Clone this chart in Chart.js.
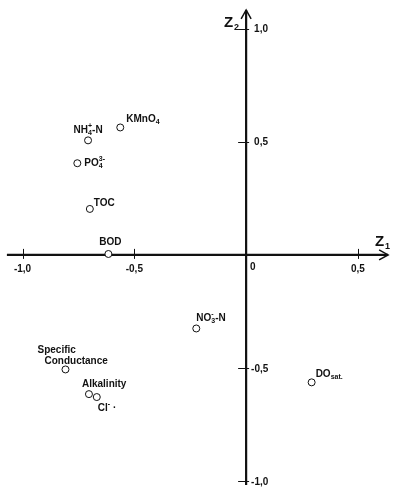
<!DOCTYPE html>
<html>
<head>
<meta charset="utf-8">
<script src="https://cdn.jsdelivr.net/npm/chart.js@4/dist/chart.umd.min.js"></script>
<style>
  html, body { margin: 0; padding: 0; background: #fff; }
  canvas { display: block; }
</style>
</head>
<body>
<canvas id="chart" width="396" height="496"></canvas>
<script>
// Variables and their loadings on the first two components
const names = ['KMnO_{4}', 'NH_{4}^{+}-N', 'PO_{4}^{3-}', 'TOC', 'BOD', 'NO_{3}^{-}-N', 'DO_{sat.}', 'Specific\nConductance', 'Alkalinity', 'Cl^{-} \u00b7'];
const z1 = [-0.563, -0.707, -0.755, -0.699, -0.616, -0.223, 0.293, -0.808, -0.703, -0.668];
const z2 = [0.563, 0.506, 0.405, 0.203, 0.004, -0.325, -0.563, -0.506, -0.615, -0.628];

const xTicks = [-1.0, -0.5, 0, 0.5];
const yTicks = [1.0, 0.5, -0.5, -1.0];

// label offsets from the point: dx, dy (middle of first line), align, indent of next lines
const labelAt = [
    [6, -8, 'left', 0],
    [0, -10, 'center', 0],
    [7, 0, 'left', 0],
    [4, -6, 'left', 0],
    [2, -12, 'center', 0],
    [0, -10, 'left', 0],
    [4, -8, 'left', 0],
    [-28, -19, 'left', 7],
    [-7, -10, 'left', 0],
    [1, 11, 'left', 0]
];

const BIG = 'bold 10px "Liberation Sans", Arial, sans-serif';
const SMALL = 'bold 7px "Liberation Sans", Arial, sans-serif';
const INK = '#111';

function parse(s) {
    const out = [];
    let buf = '', i = 0;
    while (i < s.length) {
        const c = s[i];
        if ((c === '_' || c === '^') && s[i + 1] === '{') {
            if (buf) { out.push({ t: buf, k: 'n' }); buf = ''; }
            const j = s.indexOf('}', i);
            out.push({ t: s.slice(i + 2, j), k: c === '_' ? 'sub' : 'sup' });
            i = j + 1;
        } else {
            buf += c;
            i++;
        }
    }
    if (buf) out.push({ t: buf, k: 'n' });
    return out;
}

function layout(ctx, line) {
    let x = 0, prev = null;
    const items = parse(line).map(tok => {
        ctx.font = tok.k === 'n' ? BIG : SMALL;
        const w = ctx.measureText(tok.t).width;
        let pos;
        if (tok.k === 'sup' && prev && prev.k === 'sub') {
            pos = prev.x;
            x = prev.x + Math.max(prev.w, w);
        } else {
            pos = x;
            x += w;
        }
        prev = { ...tok, x: pos, w };
        return prev;
    });
    return { items, width: x };
}

function drawRich(ctx, line, x, y, align) {
    const l = layout(ctx, line);
    const x0 = align === 'center' ? x - l.width / 2 : x;
    ctx.textBaseline = 'middle';
    ctx.textAlign = 'left';
    l.items.forEach(it => {
        ctx.font = it.k === 'n' ? BIG : SMALL;
        const dy = it.k === 'sub' ? 3 : it.k === 'sup' ? -4 : 0;
        ctx.fillText(it.t, x0 + it.x, y + dy);
    });
}

const tickText = v => v === 0 ? '0' : v.toFixed(1).replace('.', ',');

const axesPlugin = {
    id: 'crossAxes',
    beforeDatasetsDraw(chart) {
        const ctx = chart.ctx;
        const xs = chart.scales.x, ys = chart.scales.y;
        const ox = xs.getPixelForValue(0), oy = ys.getPixelForValue(0);
        const xl = xs.getPixelForValue(-1.07), xr = xs.getPixelForValue(0.635);
        const yt = ys.getPixelForValue(1.082), yb = ys.getPixelForValue(-1.017);
        ctx.save();
        ctx.strokeStyle = INK;
        ctx.fillStyle = INK;
        ctx.lineWidth = 2.2;
        ctx.beginPath();
        ctx.moveTo(xl, oy); ctx.lineTo(xr, oy);
        ctx.moveTo(ox, yb); ctx.lineTo(ox, yt);
        ctx.stroke();
        // arrow heads
        ctx.lineWidth = 1.5;
        ctx.beginPath();
        ctx.moveTo(xr - 9, oy - 5); ctx.lineTo(xr, oy); ctx.lineTo(xr - 9, oy + 5);
        ctx.moveTo(ox - 5, yt + 9); ctx.lineTo(ox, yt); ctx.lineTo(ox + 5, yt + 9);
        ctx.stroke();
        // ticks
        ctx.lineWidth = 1;
        ctx.beginPath();
        xTicks.filter(v => v !== 0).forEach(v => {
            const px = Math.round(xs.getPixelForValue(v)) + 0.5;
            ctx.moveTo(px, oy - 6); ctx.lineTo(px, oy + 4);
        });
        yTicks.forEach(v => {
            const py = Math.round(ys.getPixelForValue(v)) + 0.5;
            ctx.moveTo(ox - 8, py); ctx.lineTo(ox + 3, py);
        });
        ctx.stroke();
        // tick labels
        ctx.font = BIG;
        ctx.textBaseline = 'top';
        xTicks.forEach(v => {
            const px = xs.getPixelForValue(v);
            if (v === 0) {
                ctx.textAlign = 'left';
                ctx.fillText('0', ox + 4, oy + 7);
            } else {
                ctx.textAlign = 'center';
                ctx.fillText(tickText(v), px, oy + 9);
            }
        });
        ctx.textAlign = 'left';
        ctx.textBaseline = 'middle';
        yTicks.forEach(v => {
            const py = ys.getPixelForValue(v);
            ctx.fillText(tickText(v), ox + (v < 0 ? 5 : 8), py + 1);
        });
        // axis titles
        ctx.textBaseline = 'alphabetic';
        ctx.font = 'bold 15px "Liberation Sans", Arial, sans-serif';
        ctx.fillText('Z', xr - 13, oy - 9);
        ctx.fillText('Z', ox - 22, yt + 17);
        ctx.font = 'bold 9px "Liberation Sans", Arial, sans-serif';
        ctx.fillText('1', xr - 3, oy - 6);
        ctx.fillText('2', ox - 12, yt + 20);
        ctx.restore();
    },
    afterDatasetsDraw(chart) {
        const ctx = chart.ctx;
        const meta = chart.getDatasetMeta(0);
        ctx.save();
        ctx.fillStyle = INK;
        meta.data.forEach((pt, i) => {
            const [dx, dy, align, indent] = labelAt[i];
            names[i].split('\n').forEach((line, j) => {
                drawRich(ctx, line, pt.x + dx + (j ? indent : 0), pt.y + dy + j * 11, align);
            });
        });
        ctx.restore();
    }
};

new Chart(document.getElementById('chart').getContext('2d'), {
    type: 'scatter',
    data: {
        datasets: [{
            data: z1.map((v, i) => ({ x: v, y: z2[i] })),
            pointStyle: 'circle',
            pointRadius: 3.5,
            borderWidth: 1,
            borderColor: INK,
            backgroundColor: '#fff'
        }]
    },
    options: {
        responsive: false,
        animation: false,
        layout: { padding: 0 },
        plugins: {
            legend: { display: false },
            tooltip: { enabled: false }
        },
        scales: {
            x: { type: 'linear', min: -1.0785, max: 0.648, display: false },
            y: { type: 'linear', min: -1.043, max: 1.104, display: false }
        }
    },
    plugins: [axesPlugin]
});
</script>
</body>
</html>
